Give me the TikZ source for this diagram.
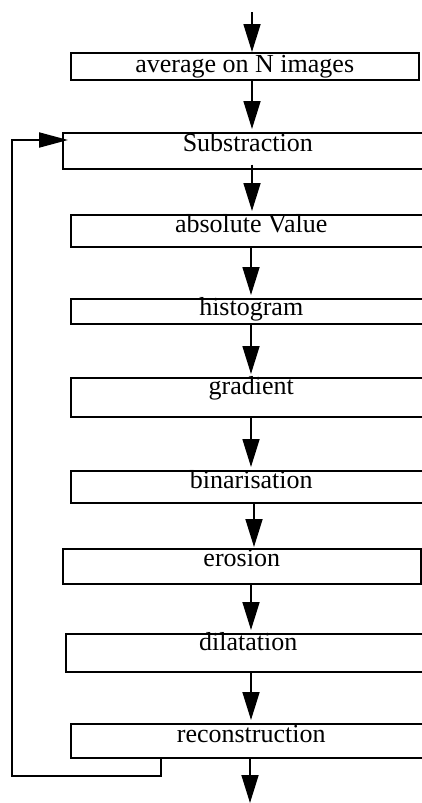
\documentclass[tikz,border=0pt]{standalone}
\usepackage{fontspec}
\setmainfont{Liberation Serif}
\usetikzlibrary{arrows.meta,calc}

\tikzset{
  stage/.style={draw=black, line width=1.5pt, rectangle, inner sep=0pt, anchor=north west},
  caption/.style={anchor=base, inner sep=0pt, font=\fontsize{26}{30}\selectfont},
  flow/.style={line width=1.7pt, -{Triangle[length=28pt,width=17pt]}},
  gap/.style={shorten >=3pt},
  loopback/.style={line width=2pt, -{Triangle[length=29pt,width=15pt]}},
}

% place a processing stage: name, left, top, right, bottom, baseline depth, text
\newcommand{\stagebox}[7]{%
  \node[stage, minimum width={(#4-#2)*1pt}, minimum height={(#5-#3)*1pt}] (#1) at (#2,#3) {};
  \node[caption] (#1t) at ($(#1.north)+(0,#6)$) {#7};
}

\begin{document}
\begin{tikzpicture}[x=1pt, y=-1pt]
  \clip (0,0) rectangle (422,803);

  \stagebox{b1}{70}{52}{418}{79}{20}{average on N images}
  \stagebox{b2}{62}{132}{432}{168}{19}{Substraction}
  \stagebox{b3}{70}{214}{431}{246}{18}{absolute Value}
  \stagebox{b4}{70}{298}{431}{323}{17}{histogram}
  \stagebox{b5}{70}{377}{431}{416}{17}{gradient}
  \stagebox{b6}{70}{470}{431}{502}{18}{binarisation}
  \stagebox{b7}{62}{548}{420}{583}{18}{erosion}
  \stagebox{b8}{65}{633}{430}{671}{17}{dilatation}
  \stagebox{b9}{70}{723}{431}{757}{19}{reconstruction}

  % main vertical axis of the data flow
  \coordinate (src) at (252,12);
  \coordinate (axis) at (251,0);
  \coordinate (sink) at (250,803);

  % loop back from reconstruction into the subtraction stage
  \coordinate (tap) at (161,757);
  \coordinate (corner) at (12,776);
  \coordinate (entry) at (68,140);

  \draw[flow] (src) -- (b1.north -| src);
  \draw[flow, gap] (b1.south -| src) -- (b2.north -| src);
  \draw[flow, gap] ([yshift=5pt]b2.south -| src) -- (b3.north -| src);
  \draw[flow, gap] (b3.south -| axis) -- (b4.north -| axis);
  \draw[flow, gap] (b4.south -| axis) -- (b5.north -| axis);
  \draw[flow, gap] (b5.south -| axis) -- (b6.north -| axis);
  \draw[flow, shorten >=1pt] (b6.south -| 254,0) -- (b7.north -| 254,0);
  \draw[flow, gap] (b7.south -| axis) -- (b8.north -| axis);
  \draw[flow, gap] (b8.south -| axis) -- (b9.north -| axis);
  \draw[flow] (b9.south -| sink) -- (sink);

  \draw[loopback] (tap) |- (corner) |- (entry);
\end{tikzpicture}
\end{document}
